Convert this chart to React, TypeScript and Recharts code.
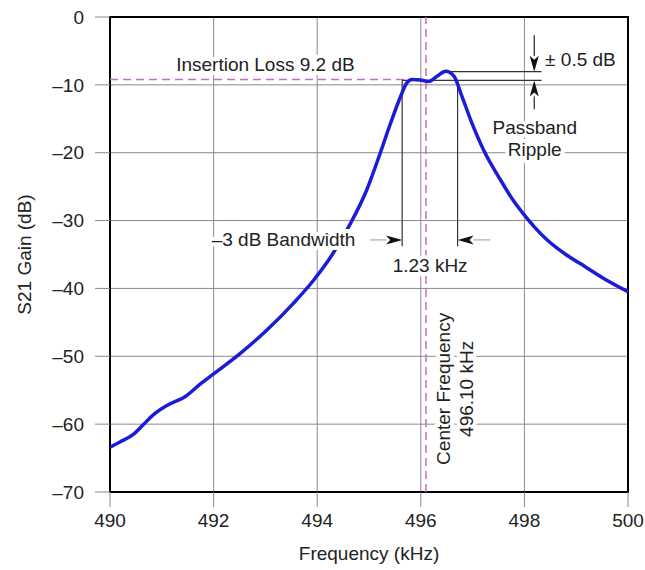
import { LineChart, Line, XAxis, YAxis, CartesianGrid, ReferenceLine, ReferenceDot, ReferenceArea } from 'recharts'

// S21 response
const freq = [490, 490.2, 490.45, 490.64, 490.84, 491.09, 491.48, 491.74, 492.0, 492.51, 493.02, 493.54, 493.93, 494.3, 494.63, 494.95, 495.21, 495.41, 495.6, 495.73, 495.83, 496.0, 496.15, 496.32, 496.48, 496.64, 496.78, 496.97, 497.2, 497.53, 497.8, 498.0, 498.2, 498.43, 498.8, 499.07, 499.59, 500]
const gain = [-63.4, -62.6, -61.5, -60.1, -58.6, -57.3, -55.8, -54.1, -52.6, -49.6, -46.2, -42.2, -38.8, -34.9, -30.6, -25.6, -20.2, -15.8, -11.9, -9.7, -9.2, -9.3, -9.5, -8.7, -8.0, -8.7, -11.4, -15.3, -19.4, -23.9, -27.2, -29.2, -31.0, -32.8, -35.0, -36.3, -38.8, -40.5]

const xTicks = [490, 492, 494, 496, 498, 500]
const yTicks = [0, -10, -20, -30, -40, -50, -60, -70]

const insertionLoss = -9.2
const centerFreq = 496.1
const bwEdges = [495.64, 496.71]
const rippleTop = -8.05
const rippleBottom = -9.35
const rippleX = 498.19

const rows = freq.map((f, i) => ({ f, g: gain[i] }))

const INK = '#222'
const GRID = '#8a8a8a'
const PINK = '#c56bc9'
const FS = 19

const fmtTick = (v: number) => (v < 0 ? `–${-v}` : `${v}`)

function Note(p: any) {
  const { cx, cy, lines, anchor = 'middle', rotate = 0, gap = 23 } = p
  return (
    <g transform={rotate ? `rotate(${rotate} ${cx} ${cy})` : undefined}>
      {lines.map((t: string, i: number) => (
        <text key={i} x={cx} y={cy + (i - (lines.length - 1) / 2) * gap} textAnchor={anchor} dominantBaseline="central"
          fontSize={FS} fill={INK} stroke="#fff" strokeWidth={8} strokeLinejoin="round" paintOrder="stroke">{t}</text>
      ))}
    </g>
  )
}

function Arrow(p: any) {
  const { x1, y1, x2, y2, shaft = '#aaa' } = p
  const dx = x2 - x1, dy = y2 - y1
  const len = Math.hypot(dx, dy) || 1
  const ux = dx / len, uy = dy / len
  const hl = 16, hw = 4.5
  const bx = x2 - ux * hl, by = y2 - uy * hl
  const nx = x2 - ux * (hl - 4), ny = y2 - uy * (hl - 4)
  const pts = `${x2},${y2} ${bx - uy * hw},${by + ux * hw} ${nx},${ny} ${bx + uy * hw},${by - ux * hw}`
  return (
    <g>
      <line x1={x1} y1={y1} x2={bx} y2={by} stroke={shaft} strokeWidth={1.2} />
      <polygon points={pts} fill="#111" />
    </g>
  )
}

export default function App() {
  return (
    <div style={{ fontFamily: 'Arial, "Liberation Sans", sans-serif' }}>
      <style>{`body{margin:0}`}</style>
      <LineChart width={645} height={570} data={rows} margin={{ top: 17, right: 17, bottom: 0, left: 0 }}>
        <CartesianGrid stroke={GRID} strokeWidth={1} />
        <XAxis dataKey="f" type="number" domain={[490, 500]} ticks={xTicks} allowDataOverflow height={78}
          axisLine={false} tickSize={15} tickMargin={7} tickLine={{ stroke: GRID }} tick={{ fill: INK, fontSize: FS }}
          label={{ value: 'Frequency (kHz)', position: 'insideBottom', offset: 10, fill: INK, fontSize: FS }} />
        <YAxis type="number" domain={[-70, 0]} ticks={yTicks} allowDataOverflow width={110} tickFormatter={fmtTick}
          axisLine={false} tickSize={15} tickMargin={11} tickLine={{ stroke: GRID }} tick={{ fill: INK, fontSize: FS }}
          label={{ value: 'S21 Gain (dB)', angle: -90, position: 'insideLeft', offset: 0,
            content: (lp: any) => (
              <text x={24} y={lp.viewBox.y + lp.viewBox.height / 2} textAnchor="middle" dominantBaseline="central"
                fontSize={FS} fill={INK} transform={`rotate(-90 24 ${lp.viewBox.y + lp.viewBox.height / 2})`}>S21 Gain (dB)</text>
            ) }} />

        <ReferenceLine x={centerFreq} stroke={PINK} strokeWidth={1.5} strokeDasharray="8 5" />
        <ReferenceLine segment={[{ x: 490, y: insertionLoss }, { x: 495.75, y: insertionLoss }]} stroke={PINK} strokeWidth={1.5} strokeDasharray="8 5" />

        <ReferenceLine segment={[{ x: bwEdges[0], y: rippleBottom }, { x: bwEdges[0], y: -33.8 }]} stroke="#333" strokeWidth={1.2} />
        <ReferenceLine segment={[{ x: bwEdges[1], y: rippleBottom }, { x: bwEdges[1], y: -33.8 }]} stroke="#333" strokeWidth={1.2} />
        <ReferenceLine segment={[{ x: 495.64, y: rippleBottom }, { x: 498.33, y: rippleBottom }]} stroke="#333" strokeWidth={1.2} />
        <ReferenceLine segment={[{ x: 496.5, y: rippleTop }, { x: 498.33, y: rippleTop }]} stroke="#333" strokeWidth={1.2} />

        <ReferenceLine segment={[{ x: 495.02, y: -32.85 }, { x: bwEdges[0], y: -32.85 }]} shape={(p: any) => <Arrow {...p} />} />
        <ReferenceLine segment={[{ x: 497.34, y: -32.85 }, { x: bwEdges[1], y: -32.85 }]} shape={(p: any) => <Arrow {...p} />} />
        <ReferenceLine segment={[{ x: rippleX, y: -2.7 }, { x: rippleX, y: rippleTop }]} shape={(p: any) => <Arrow {...p} shaft="#222" />} />
        <ReferenceLine segment={[{ x: rippleX, y: -13.6 }, { x: rippleX, y: rippleBottom }]} shape={(p: any) => <Arrow {...p} shaft="#222" />} />

        <Line dataKey="g" type="monotone" stroke="#1c1cd6" strokeWidth={3.5} dot={false} isAnimationActive={false} />

        <ReferenceDot x={493.0} y={-6.95} r={0} shape={(p: any) => <Note cx={p.cx} cy={p.cy} lines={['Insertion Loss 9.2 dB']} />} />
        <ReferenceDot x={498.4} y={-6.2} r={0} shape={(p: any) => <Note cx={p.cx} cy={p.cy} anchor="start" lines={['± 0.5 dB']} />} />
        <ReferenceDot x={498.2} y={-17.9} r={0} shape={(p: any) => <Note cx={p.cx} cy={p.cy} lines={['Passband', 'Ripple']} gap={22} />} />
        <ReferenceDot x={493.35} y={-32.85} r={0} shape={(p: any) => <Note cx={p.cx} cy={p.cy} lines={['–3 dB Bandwidth']} />} />
        <ReferenceDot x={496.18} y={-36.55} r={0} shape={(p: any) => <Note cx={p.cx} cy={p.cy} lines={['1.23 kHz']} />} />
        <ReferenceDot x={496.66} y={-54.8} r={0} shape={(p: any) => <Note cx={p.cx} cy={p.cy} rotate={-90} gap={23} lines={['Center Frequency', '496.10 kHz']} />} />

        <ReferenceArea x1={490} x2={500} y1={-70} y2={0} fill="none" stroke="#000" strokeWidth={2} />
      </LineChart>
    </div>
  )
}
